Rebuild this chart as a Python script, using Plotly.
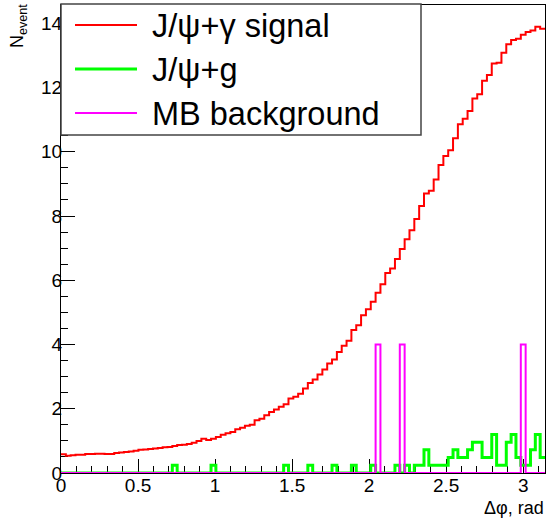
import numpy as np
import plotly.graph_objects as go

# ---- data (100 bins from 0 to pi) ----
n_bins = 100
x_min, x_max = 0.0, np.pi

signal = [0.58, 0.54, 0.55, 0.57, 0.57, 0.59, 0.59, 0.60, 0.60, 0.59,
          0.59, 0.62, 0.64, 0.65, 0.67, 0.69, 0.72, 0.73, 0.75, 0.76,
          0.78, 0.80, 0.81, 0.84, 0.87, 0.88, 0.90, 0.94, 1.00, 1.07,
          1.03, 1.07, 1.12, 1.19, 1.24, 1.28, 1.36, 1.41, 1.47, 1.50,
          1.64, 1.69, 1.80, 1.90, 1.98, 2.06, 2.14, 2.32, 2.37, 2.47,
          2.63, 2.80, 2.91, 3.07, 3.22, 3.41, 3.53, 3.77, 3.96, 4.12,
          4.45, 4.60, 4.91, 5.10, 5.33, 5.61, 5.88, 6.23, 6.37, 6.66,
          6.97, 7.28, 7.56, 7.91, 8.31, 8.70, 8.79, 9.14, 9.59, 9.87,
          10.05, 10.42, 10.86, 11.03, 11.27, 11.66, 11.79, 12.21, 12.39, 12.75,
          12.77, 13.08, 13.35, 13.48, 13.52, 13.64, 13.73, 13.78, 13.89, 13.83]

gluon_bins = [23, 31, 46, 51, 56, 60, 64, 69, 71, 73, 74, 75, 76, 77, 78, 79,
              80, 81, 82, 83, 84, 85, 86, 87, 88, 89, 90, 91, 92, 93, 94, 95,
              96, 97, 98, 99]
gluon_vals = [0.24, 0.24, 0.24, 0.24, 0.24, 0.24, 0.24, 0.24, 0.24, 0.24, 0.24, 0.72, 0.24, 0.24, 0.24, 0.24,
              0.48, 0.72, 0.48, 0.48, 0.72, 0.96, 0.96, 0.48, 0.48, 1.20, 0.24, 0.24, 0.96, 1.20, 0.48, 0.24,
              0.24, 0.72, 1.20, 0.48]

mb_bins = [65, 70, 95]
mb_vals = [4.0, 4.0, 4.0]

legend_labels = ["J/ψ+γ signal", "J/ψ+g", "MB background"]
x_title = "Δφ, rad"
y_title = "N<sub>event</sub>"

# ---- build histograms ----
edges = np.linspace(x_min, x_max, n_bins + 1)

def full(bins, vals):
    arr = np.zeros(n_bins)
    for b, v in zip(bins, vals):
        arr[b] = v
    return arr

gluon = full(gluon_bins, gluon_vals)
mb = full(mb_bins, mb_vals)

def step_xy(vals):
    v = list(vals)
    return list(edges), v + [v[-1]]

RED, GREEN, MAG = "#ff0000", "#00ff00", "#ff00ff"
FONT = "Liberation Sans, Arial, sans-serif"

fig = go.Figure()
for vals, col, w, name in [(signal, RED, 2, legend_labels[0]),
                           (gluon, GREEN, 3, legend_labels[1]),
                           (mb, MAG, 2, legend_labels[2])]:
    xs, ys = step_xy(vals)
    fig.add_trace(go.Scatter(x=xs, y=ys, mode="lines", line=dict(color=col, width=w, shape="hv"),
                             name=name, showlegend=False, hoverinfo="skip"))

# geometry helpers (pixel -> paper)
W, H = 547, 521
L, R, T, B = 61, 2, 5, 48
pw, ph = W - L - R, H - T - B
def px(x):
    return (x - L) / pw
def py(y):
    return (H - B - y) / ph

shapes = []
annotations = []
# legend box
shapes.append(dict(type="rect", xref="paper", yref="paper", x0=px(61), x1=px(421), y0=py(135), y1=py(4),
                   line=dict(color="#444444", width=1.5), fillcolor="white", layer="above"))
rows = [25, 69, 113]
for yrow, col, w, lab in zip(rows, [RED, GREEN, MAG], [2, 3, 2], legend_labels):
    shapes.append(dict(type="line", xref="paper", yref="paper", x0=px(75), x1=px(137), y0=py(yrow), y1=py(yrow),
                       line=dict(color=col, width=w), layer="above"))
    annotations.append(dict(text=lab, xref="paper", yref="paper", x=px(150), y=py(yrow + 1), xanchor="left",
                            yanchor="middle", showarrow=False, font=dict(family=FONT, size=32.5, color="black")))

annotations.append(dict(text=x_title, xref="paper", yref="paper", x=px(546), y=py(508), xanchor="right",
                        yanchor="middle", showarrow=False, font=dict(family=FONT, size=18, color="black")))
annotations.append(dict(text=y_title, xref="paper", yref="paper", x=px(19), y=py(26), xanchor="center",
                        yanchor="middle", textangle=-90, showarrow=False,
                        font=dict(family=FONT, size=18, color="black")))

axis_common = dict(showgrid=False, zeroline=False, showline=True, linecolor="black", linewidth=1,
                   mirror=True, ticks="inside", ticklen=14, tickcolor="black", tickwidth=1,
                   tickfont=dict(family=FONT, size=19, color="black"), layer="below traces")

fig.update_layout(
    width=W, height=H, margin=dict(l=L, r=R, t=T, b=B, autoexpand=False),
    paper_bgcolor="white", plot_bgcolor="white", showlegend=False,
    xaxis=dict(range=[x_min, x_max], dtick=0.5, tick0=0, ticklabelstandoff=-5,
               minor=dict(dtick=0.1, ticks="inside", ticklen=7, tickcolor="black", tickwidth=1),
               **axis_common),
    yaxis=dict(range=[0, 14.57], dtick=2, tick0=0, ticklabelstandoff=-6,
               minor=dict(dtick=0.5, ticks="inside", ticklen=7, tickcolor="black", tickwidth=1),
               **axis_common),
    shapes=shapes, annotations=annotations,
)

fig.write_html("out.html", config={"displayModeBar": False},
               post_script="document.body.style.margin='0';document.body.style.overflow='hidden';")
